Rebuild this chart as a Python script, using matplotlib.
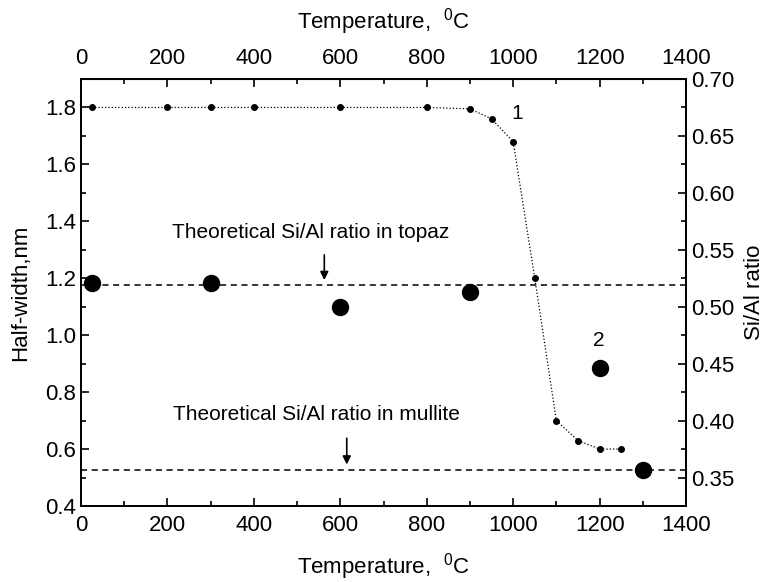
import matplotlib
matplotlib.use('Agg')
import matplotlib.pyplot as plt
from matplotlib.ticker import MultipleLocator, FixedLocator

plt.rcParams['font.family'] = ['Liberation Sans', 'DejaVu Sans']
plt.rcParams['mathtext.fontset'] = 'custom'
plt.rcParams['mathtext.rm'] = 'Liberation Sans'
plt.rcParams['mathtext.it'] = 'Liberation Sans'

# curve 1: half-width (left axis)
temp_hw = [25, 200, 300, 400, 600, 800, 900, 950, 1000, 1050, 1100, 1150, 1200, 1250]
half_width = [1.80, 1.80, 1.80, 1.80, 1.80, 1.80, 1.795, 1.76, 1.68, 1.20, 0.70, 0.63, 0.60, 0.60]

# curve 2: Si/Al ratio (right axis)
temp_si = [25, 300, 600, 900, 1200, 1300]
si_al = [0.521, 0.521, 0.500, 0.513, 0.446, 0.357]

topaz_ratio = 0.519
mullite_ratio = 0.357
x_ticks = [0, 200, 400, 600, 800, 1000, 1200, 1400]

fs = 16
fig = plt.figure(figsize=(7.67, 5.82), dpi=100)
ax = fig.add_axes([0.1056, 0.1306, 0.7888, 0.7337])
ax2 = ax.twinx()

ax.plot(temp_hw, half_width, color='k', ls=':', lw=0.9, marker='o', ms=4)
ax2.plot(temp_si, si_al, 'o', color='k', ms=11.5, ls='none')
ax2.axhline(topaz_ratio, color='k', ls=(0, (4, 3)), lw=1.1)
ax2.axhline(mullite_ratio, color='k', ls=(0, (4, 3)), lw=1.1)

ax.set_xlim(0, 1400)
ax.set_ylim(0.4, 1.9)
ax2.set_ylim(0.325, 0.70)

ax.xaxis.set_major_locator(FixedLocator(x_ticks))
ax.xaxis.set_minor_locator(MultipleLocator(100))
ax.yaxis.set_major_locator(MultipleLocator(0.2))
ax.yaxis.set_minor_locator(MultipleLocator(0.1))
ax2.yaxis.set_major_locator(MultipleLocator(0.05))
ax2.yaxis.set_minor_locator(MultipleLocator(0.025))
ax.yaxis.set_major_formatter(plt.FormatStrFormatter('%.1f'))
ax2.yaxis.set_major_formatter(plt.FormatStrFormatter('%.2f'))

top = ax.secondary_xaxis('top')
top.xaxis.set_major_locator(FixedLocator(x_ticks))
top.xaxis.set_minor_locator(FixedLocator(list(range(100, 1400, 200))))

for a in (ax, ax2, top):
    a.tick_params(which='both', direction='in', labelsize=fs, width=1.2)
    a.tick_params(which='major', length=6)
    a.tick_params(which='minor', length=3.5)
ax.tick_params(axis='x', pad=6.5)
top.tick_params(axis='x', pad=7)
for a in (ax, ax2):
    for s in a.spines.values():
        s.set_linewidth(1.3)

ax.set_xlabel('Temperature,  $^0$C', fontsize=fs, labelpad=11)
top.set_xlabel('Temperature,  $^0$C', fontsize=fs, labelpad=14)
ax.set_ylabel('Half-width,nm', fontsize=fs, labelpad=10)
ax2.set_ylabel('Si/Al ratio', fontsize=fs, labelpad=7)

ax2.text(532, 0.5656, 'Theoretical Si/Al ratio in topaz', fontsize=15, ha='center', va='center')
ax2.annotate('', xy=(563, topaz_ratio + 0.002), xytext=(563, 0.548),
             arrowprops=dict(arrowstyle='-|>', color='k', lw=1.2, mutation_scale=12))
ax2.text(544, 0.405, 'Theoretical Si/Al ratio in mullite', fontsize=15, ha='center', va='center')
ax2.annotate('', xy=(615, mullite_ratio + 0.002), xytext=(615, 0.387),
             arrowprops=dict(arrowstyle='-|>', color='k', lw=1.2, mutation_scale=12))

ax.text(1010, 1.78, '1', fontsize=fs - 1, ha='center', va='center')
ax.text(1197, 0.98, '2', fontsize=fs - 1, ha='center', va='center')

fig.savefig('out.png', dpi=100)
